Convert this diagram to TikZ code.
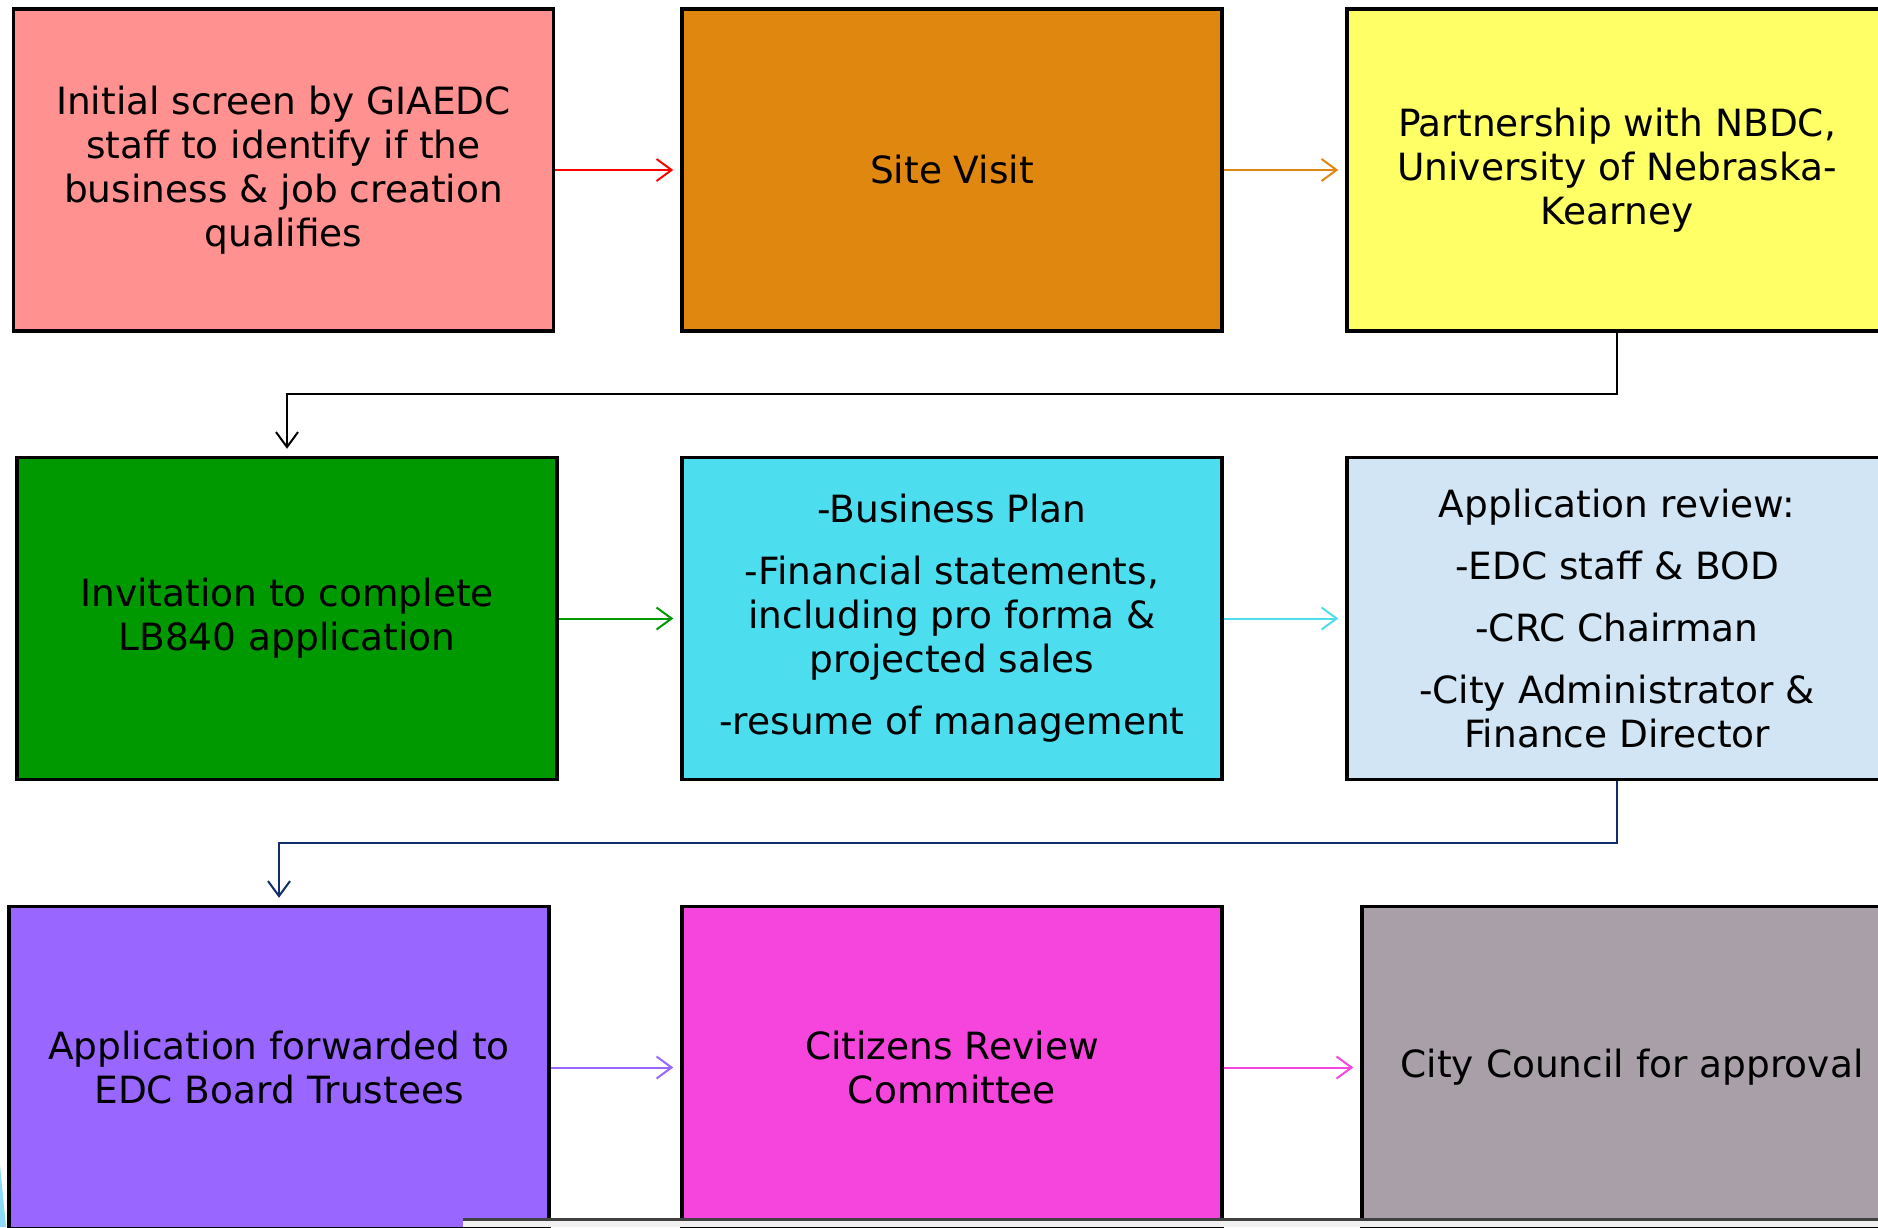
\documentclass[tikz,border=0pt]{standalone}
\usepackage{fontspec}
\setmainfont{DejaVu Sans}
\usetikzlibrary{arrows.meta}
\definecolor{cPink}{HTML}{FF9190}
\definecolor{cOrange}{HTML}{E0870F}
\definecolor{cYellow}{HTML}{FFFF66}
\definecolor{cGreen}{HTML}{009900}
\definecolor{cCyan}{HTML}{4CDDEE}
\definecolor{cLight}{HTML}{D1E5F4}
\definecolor{cPurple}{HTML}{9966FF}
\definecolor{cMagenta}{HTML}{F545DD}
\definecolor{cGray}{HTML}{A99FA8}
\definecolor{cNavy}{HTML}{102E6A}
\definecolor{cRed}{HTML}{FF0000}
\tikzset{
  box/.style={draw=black, line width=3.5pt, minimum width=540pt, minimum height=322pt,
    align=center, inner sep=0pt, font=\fontsize{37.5}{44}\selectfont},
  flow/.style={line width=2pt, shorten >=7pt, -{Straight Barb[length=15pt,width=22pt,line width=2pt]}},
}
\begin{document}
\begin{tikzpicture}[x=1pt,y=-1pt]
\useasboundingbox (0,0) rectangle (1878,1227);
\clip (0,0) rectangle (1878,1227);
\fill[white] (0,0) rectangle (1878,1227);

\node[box, fill=cPink] (b1) at (283.5,170) {Initial screen by GIAEDC\\staff to identify if the\\business \& job creation\\qualifies};
\node[box, fill=cOrange] (b2) at (952,170) {Site Visit};
\node[box, fill=cYellow] (b3) at (1617,170) {Partnership with NBDC,\\University of Nebraska-\\Kearney};

\node[box, fill=cGreen] (b4) at (287,618.5) {Invitation to complete\\LB840 application};
\node[box, fill=cCyan] (b5) at (952,618.5) {-Business Plan\\[18pt]-Financial statements,\\including pro forma \&\\projected sales\\[18pt]-resume of management};
\node[box, fill=cLight] (b6) at (1617,618.5) {Application review:\\[18pt]-EDC staff \& BOD\\[18pt]-CRC Chairman\\[18pt]-City Administrator \&\\Finance Director};

\node[box, fill=cPurple] (b7) at (279,1067.5) {Application forwarded to\\EDC Board Trustees};
\node[box, fill=cMagenta] (b8) at (952,1067.5) {Citizens Review\\Committee};
\node[box, fill=cGray] (b9) at (1632,1067.5) {City Council for approval};

\draw[flow, cRed] (b1.east) -- (b2.west);
\draw[flow, cOrange] (b2.east) -- (b3.west);
\draw[flow, cGreen] (b4.east) -- (b5.west);
\draw[flow, cCyan] (b5.east) -- (b6.west);
\draw[flow, cPurple] (b7.east) -- (b8.west);
\draw[flow, cMagenta] (b8.east) -- (b9.west);

\coordinate (k1) at (1617,394);
\coordinate (k2) at (1617,843);
\draw[flow, black] (b3.south) -- (k1) -| (b4.north);
\draw[flow, cNavy] (b6.south) -- (k2) -| (b7.north);

% bottom screen artifacts
\fill[white!94!black] (463,1219) rectangle (1878,1227);
\draw[black!75, line width=3pt] (463,1219) -- (1878,1219);
\fill[cyan!45!white] (0,1165) -- (6,1227) -- (0,1227) -- cycle;
\end{tikzpicture}
\end{document}
